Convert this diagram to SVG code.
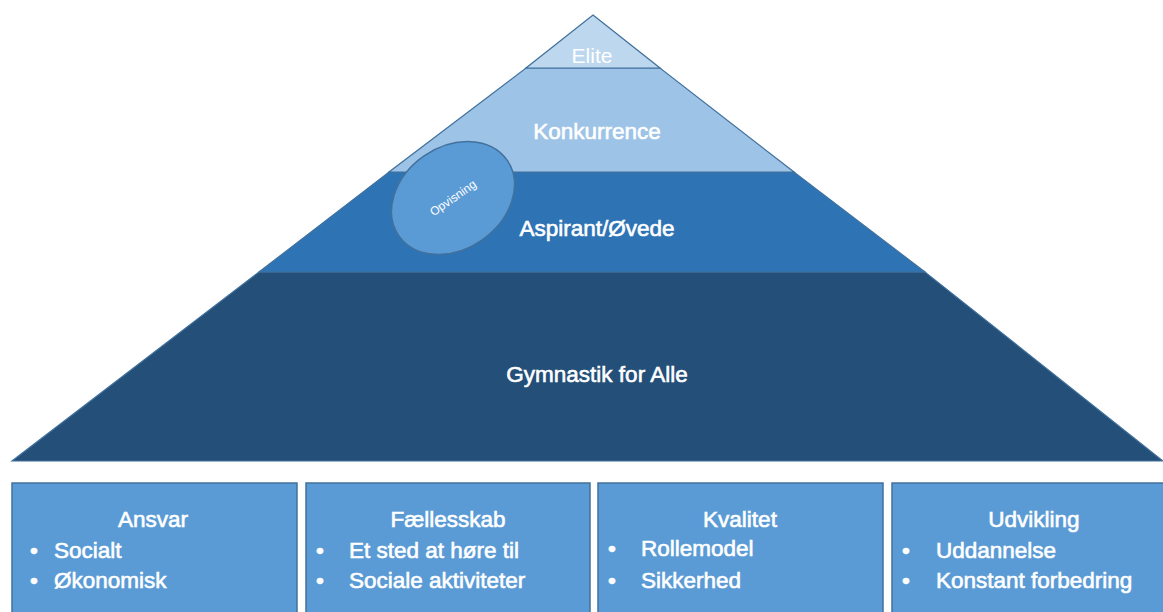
<svg xmlns="http://www.w3.org/2000/svg" width="1163" height="612" viewBox="0 0 1163 612">
<style>
text{font-family:"Liberation Sans",Arial,sans-serif;fill:#fff;font-size:22.5px;stroke:#fff;stroke-width:0.6}
.c{text-anchor:middle}
.thin{stroke:none}
.band{stroke:#41719C;stroke-width:1.2}
.box{fill:#5B9BD5;stroke:#41719C;stroke-width:1.5}
</style>
<rect width="1163" height="612" fill="#fff"/>
<g id="gymnastik">
<polygon class="band" points="259,272 925,272 1163,461 12,461" fill="#234F78"/>
<text class="c" x="597" y="382">Gymnastik for Alle</text>
</g>
<g id="aspirant">
<polygon class="band" points="389,172 794,172 925,272 259,272" fill="#2E74B5"/>
<text class="c" x="597" y="236">Aspirant/Øvede</text>
</g>
<g id="konkurrence">
<polygon class="band" points="526,68 660,68 794,172 389,172" fill="#9DC3E6"/>
<text class="c" x="597" y="139">Konkurrence</text>
</g>
<g id="elite">
<polygon class="band" points="593,15 660,68 526,68" fill="#BDD7EE"/>
<text class="c thin" x="592" y="63" style="font-size:21px">Elite</text>
</g>
<g id="opvisning">
<ellipse cx="453" cy="198" rx="66" ry="51" transform="rotate(-35 453 198)" fill="#5B9BD5" stroke="#41719C" stroke-width="1.5"/>
<text class="c thin" x="453" y="202" style="font-size:12px" transform="rotate(-35 453 198)">Opvisning</text>
</g>
<g id="ansvar">
<rect class="box" x="12" y="483" width="285" height="135"/>
<text class="c" x="153" y="527">Ansvar</text>
<text x="30" y="558">•</text><text x="54" y="558">Socialt</text>
<text x="30" y="588">•</text><text x="54" y="588">Økonomisk</text>
</g>
<g id="faellesskab">
<rect class="box" x="306" y="483" width="284" height="135"/>
<text class="c" x="448" y="527">Fællesskab</text>
<text x="316" y="558">•</text><text x="349" y="558">Et sted at høre til</text>
<text x="316" y="588">•</text><text x="349" y="588">Sociale aktiviteter</text>
</g>
<g id="kvalitet">
<rect class="box" x="598" y="483" width="285" height="135"/>
<text class="c" x="740" y="527">Kvalitet</text>
<text x="608" y="556">•</text><text x="641" y="556">Rollemodel</text>
<text x="608" y="588">•</text><text x="641" y="588">Sikkerhed</text>
</g>
<g id="udvikling">
<rect class="box" x="892" y="483" width="285" height="135"/>
<text class="c" x="1034" y="527">Udvikling</text>
<text x="902" y="558">•</text><text x="936" y="558">Uddannelse</text>
<text x="902" y="588">•</text><text x="936" y="588">Konstant forbedring</text>
</g>
</svg>
